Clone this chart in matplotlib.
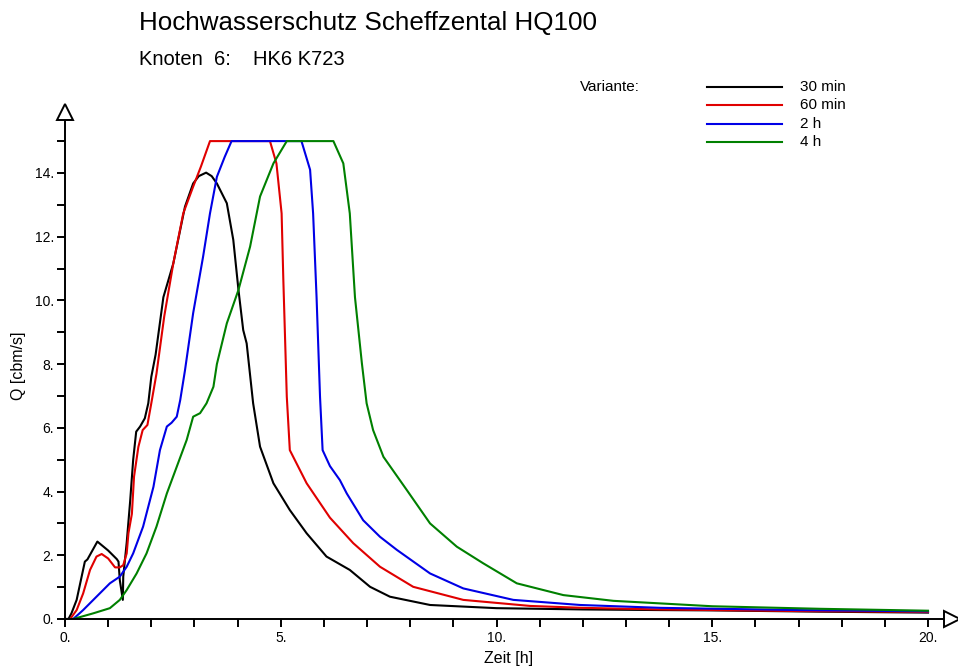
import matplotlib
matplotlib.use("Agg")
import matplotlib.pyplot as plt
from matplotlib.lines import Line2D
from matplotlib.ticker import FuncFormatter

plt.rcParams["font.family"] = ["Liberation Sans", "DejaVu Sans"]

# hydrographs: time [h] / discharge [cbm/s]
t_30min = [0, 0.08, 0.15, 0.27, 0.46, 0.52, 0.75, 1.0, 1.2, 1.24, 1.27, 1.34, 1.35, 1.43,
           1.51, 1.58, 1.65, 1.74, 1.85, 1.93, 2.0, 2.1, 2.28, 2.51, 2.78, 2.97, 3.1, 3.27,
           3.4, 3.52, 3.75, 3.9, 4.02, 4.13, 4.21, 4.36, 4.52, 4.83, 5.21, 5.6, 6.06, 6.6,
           7.07, 7.53, 8.46, 10.0, 12.0, 13.8, 15.0, 17.5, 20.0]
q_30min = [0, 0, 0.18, 0.6, 1.8, 1.87, 2.43, 2.15, 1.88, 1.8, 1.22, 0.6, 1.33, 2.4,
           3.7, 5.0, 5.88, 6.04, 6.3, 6.77, 7.6, 8.3, 10.1, 11.16, 12.94, 13.67, 13.9, 14.01,
           13.9, 13.67, 13.05, 11.9, 10.33, 9.07, 8.65, 6.77, 5.41, 4.26, 3.42, 2.69, 1.96, 1.54,
           1.01, 0.7, 0.44, 0.34, 0.3, 0.28, 0.27, 0.23, 0.2]

t_60min = [0, 0.12, 0.27, 0.42, 0.58, 0.73, 0.85, 1.0, 1.16, 1.27, 1.35, 1.43, 1.47, 1.55,
           1.6, 1.7, 1.8, 1.91, 2.0, 2.12, 2.3, 2.51, 2.74, 2.97, 3.15, 3.36, 4.75, 4.9, 5.02,
           5.06, 5.14, 5.21, 5.6, 6.14, 6.68, 7.3, 8.07, 9.23, 10.78, 12.0, 13.8, 17.0, 20.0]
q_60min = [0, 0, 0.28, 0.8, 1.54, 1.96, 2.04, 1.9, 1.62, 1.62, 1.69, 2.06, 2.69, 3.3,
           4.47, 5.4, 5.93, 6.09, 6.77, 7.7, 9.5, 11.16, 12.73, 13.57, 14.2, 15.0, 15.0, 14.3, 12.73,
           10.64, 6.98, 5.3, 4.26, 3.18, 2.38, 1.64, 1.01, 0.6, 0.41, 0.35, 0.3, 0.25, 0.22]

t_2h = [0, 0.19, 0.42, 0.73, 1.04, 1.27, 1.43, 1.58, 1.81, 2.05, 2.2, 2.36, 2.47, 2.59,
        2.67, 2.78, 2.97, 3.2, 3.36, 3.52, 3.7, 3.86, 5.48, 5.68, 5.75, 5.83, 5.91, 5.97,
        6.14, 6.37, 6.53, 6.91, 7.3, 7.69, 8.46, 9.23, 10.39, 11.94, 13.8, 17.0, 20.0]
q_2h = [0, 0, 0.28, 0.7, 1.12, 1.33, 1.64, 2.06, 2.9, 4.15, 5.3, 6.04, 6.16, 6.35,
        6.87, 7.8, 9.6, 11.37, 12.73, 13.88, 14.5, 15.0, 15.0, 14.1, 12.73, 10.1, 6.98, 5.3,
        4.8, 4.36, 3.94, 3.1, 2.58, 2.17, 1.43, 0.96, 0.6, 0.44, 0.35, 0.28, 0.24]

t_4h = [0, 0.19, 0.66, 1.04, 1.27, 1.43, 1.66, 1.89, 2.12, 2.36, 2.59, 2.82, 2.97, 3.13,
        3.28, 3.44, 3.52, 3.75, 4.02, 4.29, 4.52, 4.83, 5.14, 6.22, 6.45, 6.6, 6.72, 6.88,
        6.99, 7.14, 7.38, 7.92, 8.46, 9.08, 9.69, 10.47, 11.55, 12.71, 13.79, 15.0, 17.5, 20.0]
q_4h = [0, 0, 0.18, 0.34, 0.6, 0.91, 1.43, 2.06, 2.9, 3.94, 4.78, 5.62, 6.35, 6.46,
        6.77, 7.29, 8.0, 9.28, 10.33, 11.69, 13.26, 14.3, 15.0, 15.0, 14.3, 12.73, 10.1, 8.03,
        6.77, 5.93, 5.09, 4.05, 3.0, 2.27, 1.75, 1.12, 0.75, 0.57, 0.49, 0.4, 0.32, 0.26]

labels = ["30 min", "60 min", "2 h", "4 h"]
colors = ["black", "#e00000", "#0000e6", "#008000"]
series = [(t_30min, q_30min), (t_60min, q_60min), (t_2h, q_2h), (t_4h, q_4h)]

fig = plt.figure(figsize=(9.58, 6.69), dpi=100)
# 0..20 h spans 65..928 px, 0..15 spans 619..141 px
XMAX, YMAX = 20.56, 15.9
ax = fig.add_axes([65 / 958, 50 / 669, 863 / 958 * XMAX / 20, 477.9 / 669 * YMAX / 15])

for (t, q), c in zip(series, colors):
    ax.plot(t, q, color=c, lw=1.5, solid_joinstyle="round")

ax.set_xlim(0, XMAX)
ax.set_ylim(0, YMAX)
for s in ("top", "right"):
    ax.spines[s].set_visible(False)
for s in ("left", "bottom"):
    ax.spines[s].set_linewidth(1.4)

# hollow arrow heads at the axis ends
ax.plot([XMAX], [0], marker=">", ms=12, mfc="white", mec="black", mew=1.4, clip_on=False, zorder=5)
ax.plot([0], [YMAX], marker="^", ms=12, mfc="white", mec="black", mew=1.4, clip_on=False, zorder=5)

ax.set_xticks(range(21))
ax.set_yticks(range(16))
ax.xaxis.set_major_formatter(FuncFormatter(lambda v, p: f"{int(v)}." if int(v) % 5 == 0 else ""))
ax.yaxis.set_major_formatter(FuncFormatter(lambda v, p: f"{int(v)}." if int(v) % 2 == 0 else ""))
ax.tick_params(direction="out", length=6, width=1.4, labelsize=10, colors="black")
ax.tick_params(axis="y", pad=2)
ax.tick_params(axis="x", pad=3)

ax.set_xlabel("Zeit [h]", fontsize=11.5, labelpad=4)
ax.set_ylabel("Q [cbm/s]", fontsize=11.5, labelpad=6)

fig.text(139 / 958, 1 - 30 / 669, "Hochwasserschutz Scheffzental HQ100", fontsize=18.7, va="baseline")
fig.text(139 / 958, 1 - 65 / 669, "Knoten  6:", fontsize=14.5, va="baseline")
fig.text(253 / 958, 1 - 65 / 669, "HK6 K723", fontsize=14.5, va="baseline")

# legend block
fig.text(580 / 958, 1 - 87 / 669, "Variante:", fontsize=11, va="center")
for i, (lab, c) in enumerate(zip(labels, colors)):
    y = 1 - (87 + i * 18.3) / 669
    fig.add_artist(Line2D([707 / 958, 782 / 958], [y, y], color=c, lw=1.5))
    fig.text(800 / 958, y, lab, fontsize=11, va="center")

fig.savefig("out.png", dpi=100)
